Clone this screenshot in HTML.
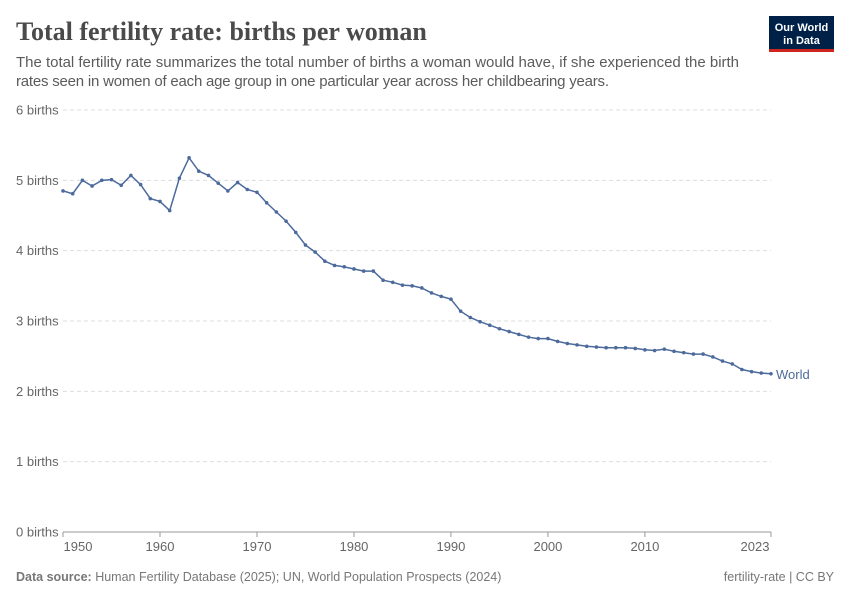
<!DOCTYPE html>
<html><head><meta charset="utf-8"><style>
body{margin:0;background:#fff;font-family:"Liberation Sans",sans-serif;}
</style></head><body>
<svg id="s" width="850" height="600" xmlns="http://www.w3.org/2000/svg" font-family="Liberation Sans, sans-serif">
<text x="16" y="40" font-family="Liberation Serif, serif" font-size="26" font-weight="bold" fill="#4a4a4a">Total fertility rate: births per woman</text>
<text x="16" y="67" font-size="15" fill="#5b5b5b" textLength="723">The total fertility rate summarizes the total number of births a woman would have, if she experienced the birth</text>
<text x="16" y="86" font-size="15" fill="#5b5b5b" textLength="593">rates seen in women of each age group in one particular year across her childbearing years.</text>
<rect x="769" y="16" width="65" height="36" fill="#002147"/>
<rect x="769" y="49" width="65" height="3" fill="#ce261e"/>
<text x="801.5" y="31" font-size="11" fill="#fff" text-anchor="middle" font-weight="bold">Our World</text>
<text x="801.5" y="44" font-size="11" fill="#fff" text-anchor="middle" font-weight="bold">in Data</text>
<g id="g"></g>
<text x="16" y="581" font-size="12.5" fill="#777"><tspan font-weight="bold">Data source:</tspan> Human Fertility Database (2025); UN, World Population Prospects (2024)</text>
<text x="834" y="581" font-size="12.5" fill="#777" text-anchor="end">fertility-rate | CC BY</text>
</svg>
<script>
var d=[4.85,4.81,5.00,4.92,5.00,5.01,4.93,5.07,4.94,4.74,4.70,4.57,5.03,5.32,5.13,5.07,4.96,4.85,4.97,4.87,4.83,4.68,4.55,4.42,4.26,4.08,3.98,3.85,3.79,3.77,3.74,3.71,3.71,3.58,3.55,3.51,3.50,3.47,3.40,3.35,3.31,3.14,3.05,2.99,2.94,2.89,2.85,2.81,2.77,2.75,2.75,2.71,2.68,2.66,2.64,2.63,2.62,2.62,2.62,2.61,2.59,2.58,2.60,2.57,2.55,2.53,2.53,2.49,2.43,2.39,2.31,2.28,2.26,2.25];
var X=function(y){return 63+(y-1950)*708/73},Y=function(v){return 532-v*70.33};
var h='';
for(var i=0;i<=6;i++){var y=Y(i);
h+='<text x="16" y="'+(y+4.5)+'" font-size="13" fill="#666">'+i+' births</text>';
if(i>0)h+='<line x1="63" x2="771" y1="'+y+'" y2="'+y+'" stroke="#ddd" stroke-dasharray="4,3"/>';}
h+='<line x1="63" x2="771" y1="532" y2="532" stroke="#999"/>';
[1950,1960,1970,1980,1990,2000,2010,2023].forEach(function(t){var x=X(t);
h+='<line x1="'+x+'" x2="'+x+'" y1="532" y2="537" stroke="#999"/>';
h+='<text x="'+(t==1950?x+15:t==2023?x-16:x)+'" y="551" font-size="13" fill="#666" text-anchor="middle">'+t+'</text>';});
var p=d.map(function(v,i){return X(1950+i).toFixed(1)+','+Y(v).toFixed(1)}).join(' ');
h+='<polyline points="'+p+'" fill="none" stroke="#4c6a9c" stroke-width="1.5"/>';
d.forEach(function(v,i){h+='<circle cx="'+X(1950+i)+'" cy="'+Y(v)+'" r="1.8" fill="#4c6a9c"/>';});
h+='<text x="776" y="'+(Y(2.25)+5)+'" font-size="13" fill="#4c6a9c">World</text>';
document.getElementById('g').innerHTML=h;
</script>
</body></html>
